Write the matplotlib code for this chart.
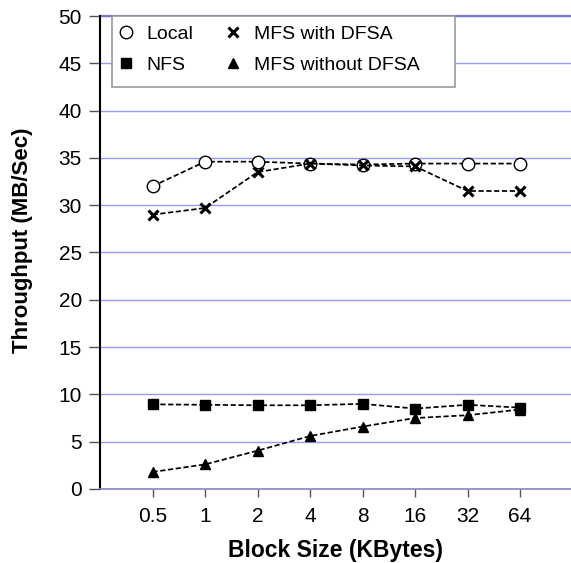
import matplotlib
matplotlib.use("Agg")
import matplotlib.pyplot as plt
from matplotlib.patches import Rectangle
from matplotlib.transforms import Affine2D

block_sizes = ["0.5", "1", "2", "4", "8", "16", "32", "64"]
local = [32.0, 34.6, 34.6, 34.4, 34.3, 34.4, 34.4, 34.4]
nfs = [8.95, 8.9, 8.85, 8.85, 9.0, 8.5, 8.9, 8.6]
mfs_dfsa = [29.0, 29.7, 33.5, 34.4, 34.2, 34.1, 31.5, 31.5]
mfs_nodfsa = [1.8, 2.6, 4.05, 5.6, 6.6, 7.5, 7.8, 8.4]
y_ticks = [0, 5, 10, 15, 20, 25, 30, 35, 40, 45, 50]

plt.rcParams['font.family'] = ['Liberation Sans', 'DejaVu Sans']

W, H = 571, 563
fig = plt.figure(figsize=(W / 100, H / 100), dpi=100)
ax = fig.add_axes([100 / W, (H - 489) / H, 1 - 100 / W, (489 - 16) / H])
pix = Affine2D().scale(1 / W, 1 / H) + fig.transFigure

x = list(range(1, len(block_sizes) + 1))
dash = (0, (3, 1.5))
lw = 1.25
ax.plot(x, local, linestyle=dash, color='black', lw=lw, marker='o', ms=9,
        mfc='white', mec='black', mew=1.0, label='Local', zorder=3)
ax.plot(x, mfs_dfsa, linestyle=dash, color='black', lw=lw, marker='x', ms=7,
        mec='black', mew=2.2, label='MFS with DFSA', zorder=3)
ax.plot(x, nfs, linestyle=dash, color='black', lw=lw, marker='s', ms=6.5,
        mfc='black', mec='black', label='NFS', zorder=3)
ax.plot(x, mfs_nodfsa, linestyle=dash, color='black', lw=lw, marker='^', ms=7.5,
        mfc='black', mec='black', label='MFS without DFSA', zorder=3)

ax.set_xlim(0, 8.97)
ax.set_ylim(0, 50)
ax.set_yticks(y_ticks)
ax.set_xticks(x)
ax.set_xticklabels(block_sizes)
ax.yaxis.grid(True, color='#9999FF', lw=1.0)
ax.set_axisbelow(True)
for s in ['top', 'right']:
    ax.spines[s].set_visible(False)
ax.spines['left'].set_color('black')
ax.spines['left'].set_linewidth(1.5)
ax.spines['bottom'].set_color('#8888BB')
ax.spines['bottom'].set_linewidth(1.2)
ax.axhline(50, color='#7777CC', lw=1.6, clip_on=False, zorder=1)
ax.tick_params(axis='y', direction='out', length=8, width=1, color='#555555',
               labelsize=15, pad=5)
ax.tick_params(axis='x', direction='out', length=6, width=1, color='#555555',
               labelsize=15, pad=7)

# axis titles (figure pixel layout, y measured from top)
fig.text(336, H - 551, 'Block Size (KBytes)', transform=pix, fontsize=16.5,
         fontweight='bold', ha='center', va='center')
fig.text(23, H - 240, 'Throughput (MB/Sec)', transform=pix, fontsize=16,
         fontweight='bold', ha='center', va='center', rotation=90)

# legend frame
frame = Rectangle((112, H - 87), 455 - 112, 87 - 16, transform=pix,
                  facecolor='white', edgecolor='#999999', lw=1.2, zorder=10)
fig.add_artist(frame)

handles, labels = ax.get_legend_handles_labels()
order = [0, 2, 1, 3]
leg = fig.legend([handles[i] for i in order], [labels[i] for i in order],
                 ncol=2, loc='upper left', bbox_to_anchor=(116 / W, 1 - 25 / H),
                 frameon=False, fontsize=14,
                 handlelength=1.0, handletextpad=0.58, columnspacing=1.55,
                 borderpad=0.0, borderaxespad=0.0, labelspacing=0.72)
leg.set_zorder(11)
for h in leg.legend_handles:
    h.set_linestyle('none')

fig.savefig('out.png', dpi=100)
